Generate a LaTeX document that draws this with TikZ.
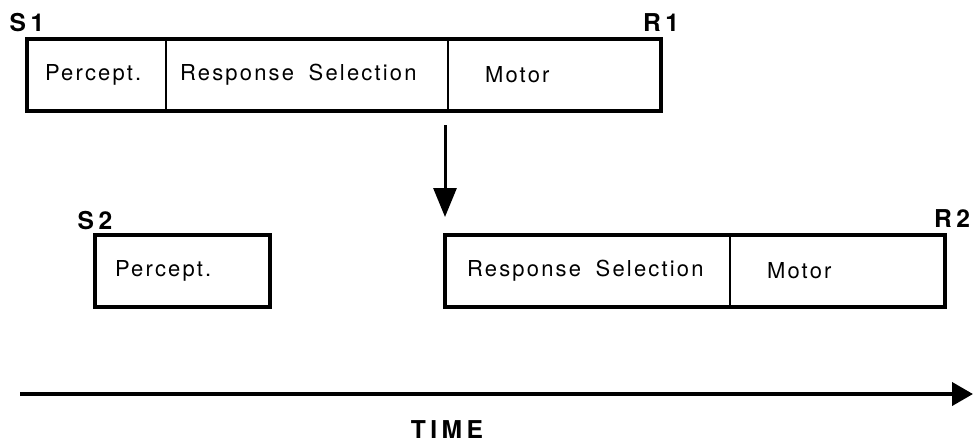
\documentclass[tikz,border=0pt]{standalone}
\usepackage{fontspec}
\setmainfont{TeX Gyre Heros}[LetterSpace=10]
\usetikzlibrary{positioning}
\usetikzlibrary{arrows.meta}

\tikzset{
  stage/.style={draw, line width=0.45mm, minimum height=14.4mm, inner ysep=0pt, outer sep=0pt,
    align=left, font=\fontsize{12.5}{14}\selectfont},
  frame/.style={line width=0.8mm},
  tag/.style={inner sep=0pt, font=\fontsize{14}{16}\selectfont\bfseries\addfontfeature{LetterSpace=18}},
}

\begin{document}
\begin{tikzpicture}[x=0.2mm,y=-0.2mm]
  \useasboundingbox (0,0) rectangle (973,445);

  % task 1
  \node[stage, anchor=north west, text width=20.6mm, inner xsep=3.6mm] (pc1) at (27,39) {Percept.};
  \node[stage, right=0pt of pc1, text width=50.8mm, inner xsep=2.8mm] (rs1) {Response\ \ Selection};
  \node[stage, right=0pt of rs1, text width=27.8mm, inner xsep=7.4mm] (mo1) {Motor};
  \draw[frame] (pc1.north west) rectangle (mo1.south east);
  \node[tag, above=1.4mm of pc1.north west] (s1) {S1};
  \node[tag, above=1.4mm of mo1.north east] (r1) {R1};

  % task 2
  \node[stage, anchor=north west, text width=27mm, inner xsep=4mm] (pc2) at (95,235) {Percept.};
  \draw[frame] (pc2.north west) rectangle (pc2.south east);
  \node[stage, anchor=north west, text width=48.2mm, inner xsep=4.4mm] (rs2) at (445,235) {Response\ \ Selection};
  \node[stage, right=0pt of rs2, text width=28.2mm, inner xsep=7.4mm] (mo2) {Motor};
  \draw[frame] (rs2.north west) rectangle (mo2.south east);
  \node[tag, above=1mm of pc2.north west] (s2) {S2};
  \node[tag, above=1.4mm of mo2.north east, xshift=1.4mm] (r2) {R2};

  % bottleneck
  \draw[line width=0.6mm, -{Triangle[length=5.8mm,width=4.6mm]}, shorten <=2.8mm, shorten >=3.6mm]
    (rs2.north west |- mo1.south) -- (rs2.north west);

  % time axis
  \coordinate (t0) at (20,394);
  \coordinate (t1) at (973,394);
  \draw[frame, -{Triangle[length=4.2mm,width=4.6mm]}] (t0) -- (t1);
  \node[tag] (time) at (447,430) {TIME};
\end{tikzpicture}
\end{document}
